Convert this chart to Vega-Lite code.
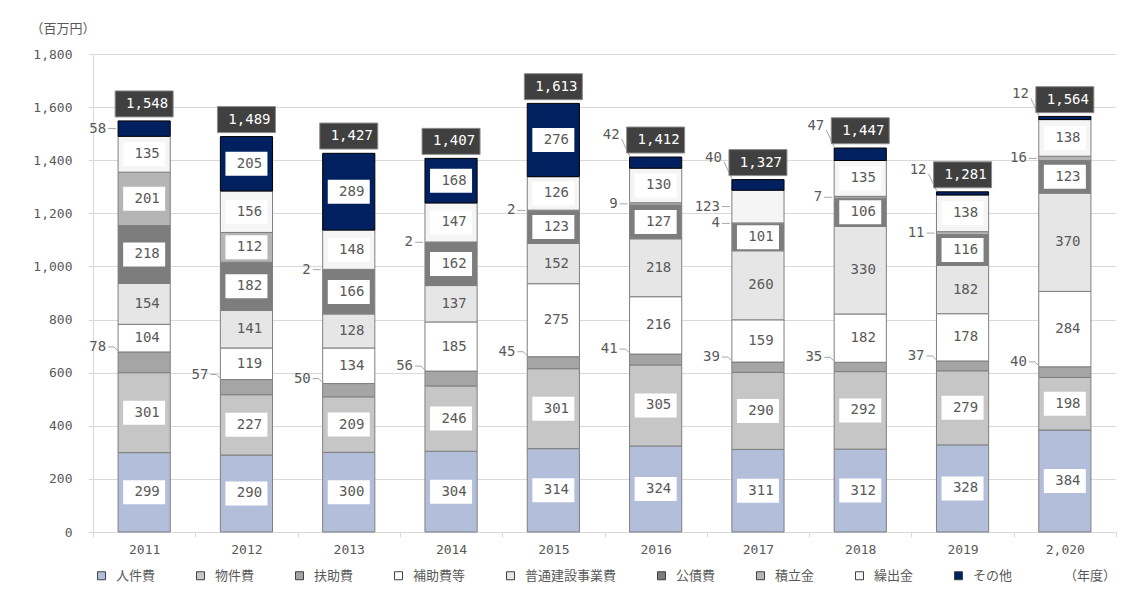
{
  "$schema": "https://vega.github.io/schema/vega-lite/v6.json",
  "width": 1023,
  "height": 478,
  "autosize": {"type": "none"},
  "padding": {"left": 93, "top": 54, "right": 13, "bottom": 62},
  "background": "white",
  "config": {
    "view": {"stroke": null},
    "font": "DejaVu Sans Mono",
    "axis": {
      "domainColor": "#d9d9d9",
      "tickColor": "#d9d9d9",
      "gridColor": "#d9d9d9",
      "labelColor": "#595959",
      "labelFontSize": 13,
      "labelFont": "DejaVu Sans Mono",
      "tickSize": 5
    },
    "legend": {
      "orient": "none",
      "legendX": 2,
      "legendY": 515,
      "direction": "horizontal",
      "columnPadding": 38,
      "symbolType": "square",
      "symbolSize": 64,
      "symbolStrokeColor": "#404040",
      "symbolStrokeWidth": 1,
      "labelFont": "Noto Sans CJK JP",
      "labelFontSize": 13,
      "labelColor": "#595959",
      "labelOffset": 8,
      "titleOrient": "right",
      "titlePadding": 52,
      "titleFont": "Noto Sans CJK JP",
      "titleFontSize": 13,
      "titleFontWeight": "normal",
      "titleColor": "#595959"
    }
  },
  "datasets": {
    "cats": [
      {"item": "人件費", "k": 1},
      {"item": "物件費", "k": 2},
      {"item": "扶助費", "k": 3},
      {"item": "補助費等", "k": 4},
      {"item": "普通建設事業費", "k": 5},
      {"item": "公債費", "k": 6},
      {"item": "積立金", "k": 7},
      {"item": "繰出金", "k": 8},
      {"item": "その他", "k": 9}
    ]
  },
  "data": {
    "values": [
      {"year": "2011", "人件費": 299, "物件費": 301, "扶助費": 78, "補助費等": 104, "普通建設事業費": 154, "公債費": 218, "積立金": 201, "繰出金": 135, "その他": 58, "total": 1548},
      {"year": "2012", "人件費": 290, "物件費": 227, "扶助費": 57, "補助費等": 119, "普通建設事業費": 141, "公債費": 182, "積立金": 112, "繰出金": 156, "その他": 205, "total": 1489},
      {"year": "2013", "人件費": 300, "物件費": 209, "扶助費": 50, "補助費等": 134, "普通建設事業費": 128, "公債費": 166, "積立金": 2, "繰出金": 148, "その他": 289, "total": 1427},
      {"year": "2014", "人件費": 304, "物件費": 246, "扶助費": 56, "補助費等": 185, "普通建設事業費": 137, "公債費": 162, "積立金": 2, "繰出金": 147, "その他": 168, "total": 1407},
      {"year": "2015", "人件費": 314, "物件費": 301, "扶助費": 45, "補助費等": 275, "普通建設事業費": 152, "公債費": 123, "積立金": 2, "繰出金": 126, "その他": 276, "total": 1613},
      {"year": "2016", "人件費": 324, "物件費": 305, "扶助費": 41, "補助費等": 216, "普通建設事業費": 218, "公債費": 127, "積立金": 9, "繰出金": 130, "その他": 42, "total": 1412},
      {"year": "2017", "人件費": 311, "物件費": 290, "扶助費": 39, "補助費等": 159, "普通建設事業費": 260, "公債費": 101, "積立金": 4, "繰出金": 123, "その他": 40, "total": 1327},
      {"year": "2018", "人件費": 312, "物件費": 292, "扶助費": 35, "補助費等": 182, "普通建設事業費": 330, "公債費": 106, "積立金": 7, "繰出金": 135, "その他": 47, "total": 1447},
      {"year": "2019", "人件費": 328, "物件費": 279, "扶助費": 37, "補助費等": 178, "普通建設事業費": 182, "公債費": 116, "積立金": 11, "繰出金": 138, "その他": 12, "total": 1281},
      {"year": "2,020", "人件費": 384, "物件費": 198, "扶助費": 40, "補助費等": 284, "普通建設事業費": 370, "公債費": 123, "積立金": 16, "繰出金": 138, "その他": 12, "total": 1564}
    ]
  },
  "encoding": {
    "x": {
      "field": "year",
      "type": "ordinal",
      "scale": {"domain": ["2011", "2012", "2013", "2014", "2015", "2016", "2017", "2018", "2019", "2,020"], "paddingInner": 0, "paddingOuter": 0},
      "axis": {"title": null, "labelAngle": 0, "tickBand": "extent", "grid": false, "labelPadding": 6}
    }
  },
  "layer": [
    {
      "transform": [
        {"fold": ["人件費", "物件費", "扶助費", "補助費等", "普通建設事業費", "公債費", "積立金", "繰出金", "その他"], "as": ["item", "value"]},
        {"lookup": "item", "from": {"data": {"name": "cats"}, "key": "item", "fields": ["k"]}},
        {"stack": "value", "groupby": ["year"], "sort": [{"field": "k", "order": "ascending"}], "as": ["y0", "y1"]},
        {"calculate": "(datum.y0 + datum.y1) / 2", "as": "ymid"}
      ],
      "layer": [
        {
          "mark": {"type": "bar", "width": {"band": 0.51}, "strokeWidth": 1},
          "encoding": {
            "y": {
              "field": "y0",
              "type": "quantitative",
              "scale": {"domain": [0, 1800], "nice": false},
              "axis": {
                "values": [0, 200, 400, 600, 800, 1000, 1200, 1400, 1600, 1800],
                "format": ",d",
                "labelPadding": 16,
                "title": "（百万円）",
                "titleAngle": 0,
                "titleAlign": "left",
                "titleBaseline": "middle",
                "titleX": -63,
                "titleY": -26,
                "titleFont": "Noto Sans CJK JP",
                "titleFontSize": 13,
                "titleFontWeight": "normal",
                "titleColor": "#595959"
              }
            },
            "y2": {"field": "y1"},
            "color": {
              "field": "item",
              "type": "nominal",
              "scale": {
                "domain": ["人件費", "物件費", "扶助費", "補助費等", "普通建設事業費", "公債費", "積立金", "繰出金", "その他"],
                "range": ["#b3bedb", "#c6c6c6", "#a5a5a5", "#ffffff", "#e6e6e6", "#7d7d7d", "#b5b5b5", "#f5f5f5", "#002060"]
              },
              "legend": {"title": "（年度）"}
            },
            "stroke": {"condition": {"test": "datum.item === 'その他'", "value": "#000000"}, "value": "#7f7f7f"}
          }
        },
        {
          "transform": [
            {"filter": "datum.item !== '扶助費' && datum.item !== '普通建設事業費' && datum.value >= 60 && !(datum.year === '2017' && datum.item === '繰出金')"}
          ],
          "mark": {"type": "point", "shape": "M-21,-12H21V12H-21Z", "size": 4, "filled": true, "color": "#ffffff", "opacity": 1},
          "encoding": {"y": {"field": "ymid", "type": "quantitative"}}
        },
        {
          "transform": [
            {"filter": "datum.item !== '扶助費' && datum.value >= 60 && !(datum.year === '2017' && datum.item === '繰出金')"}
          ],
          "mark": {"type": "text", "fontSize": 14, "color": "#595959", "dx": 3, "baseline": "middle"},
          "encoding": {"y": {"field": "ymid", "type": "quantitative"}, "text": {"field": "value", "type": "quantitative"}}
        },
        {
          "transform": [{"filter": "datum.item === '扶助費'"}],
          "mark": {"type": "text", "fontSize": 14, "color": "#595959", "align": "right", "dx": -38, "dy": -5, "baseline": "middle"},
          "encoding": {"y": {"field": "y1", "type": "quantitative"}, "text": {"field": "value", "type": "quantitative"}}
        },
        {
          "transform": [{"filter": "datum.item === '扶助費'"}],
          "mark": {"type": "point", "shape": "M-36,-5H-30L-26,-1", "size": 4, "filled": false, "color": "#a6a6a6", "strokeWidth": 1, "opacity": 1},
          "encoding": {"y": {"field": "y1", "type": "quantitative"}}
        },
        {
          "transform": [{"filter": "(datum.item === '積立金' && datum.value < 60) || (datum.year === '2017' && datum.item === '繰出金') || (datum.year === '2011' && datum.item === 'その他')"}],
          "mark": {"type": "text", "fontSize": 14, "color": "#595959", "align": "right", "dx": -38, "baseline": "middle"},
          "encoding": {"y": {"field": "ymid", "type": "quantitative"}, "text": {"field": "value", "type": "quantitative"}}
        },
        {
          "transform": [{"filter": "(datum.item === '積立金' && datum.value < 60) || (datum.year === '2017' && datum.item === '繰出金') || (datum.year === '2011' && datum.item === 'その他')"}],
          "mark": {"type": "point", "shape": "M-36,0H-28", "size": 4, "filled": false, "color": "#a6a6a6", "strokeWidth": 1, "opacity": 1},
          "encoding": {"y": {"field": "ymid", "type": "quantitative"}}
        },
        {
          "transform": [{"filter": "datum.item === 'その他' && datum.value < 60 && datum.year !== '2011'"}],
          "mark": {"type": "text", "fontSize": 14, "color": "#595959", "align": "right", "dx": -36, "dy": -22, "baseline": "middle"},
          "encoding": {"y": {"field": "y1", "type": "quantitative"}, "text": {"field": "value", "type": "quantitative"}}
        },
        {
          "transform": [{"filter": "datum.item === 'その他' && datum.value < 60 && datum.year !== '2011'"}],
          "mark": {"type": "point", "shape": "M-34,-18L-26,-1", "size": 4, "filled": false, "color": "#a6a6a6", "strokeWidth": 1, "opacity": 1},
          "encoding": {"y": {"field": "y1", "type": "quantitative"}}
        }
      ]
    },
    {
      "layer": [
        {
          "mark": {"type": "point", "shape": "M-29,-30H29V-4H-29Z", "size": 4, "filled": true, "color": "#404040", "stroke": "#8c8c8c", "strokeWidth": 1, "opacity": 1},
          "encoding": {"y": {"field": "total", "type": "quantitative"}}
        },
        {
          "mark": {"type": "text", "fontSize": 14, "color": "#ffffff", "dx": 3, "dy": -17, "baseline": "middle"},
          "encoding": {"y": {"field": "total", "type": "quantitative"}, "text": {"field": "total", "type": "quantitative", "format": ",d"}}
        }
      ]
    }
  ]
}
